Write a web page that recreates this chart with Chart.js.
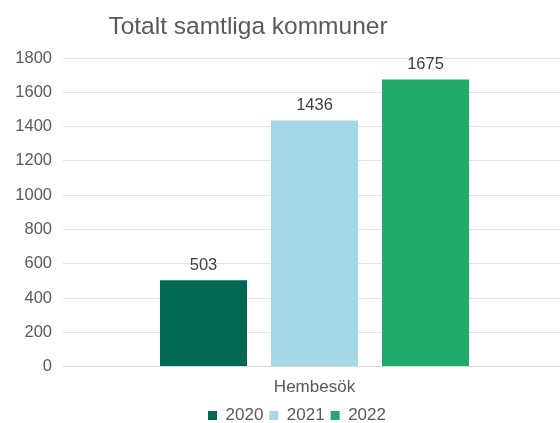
<!DOCTYPE html>
<html>
<head>
<meta charset="utf-8">
<script src="https://cdn.jsdelivr.net/npm/chart.js@4"></script>
<style>
  html, body { margin: 0; padding: 0; background: #fff; overflow: hidden; }
  #wrap { position: relative; width: 570px; height: 434px; }
  #title { position: absolute; left: 0; top: 12px; width: 496px; text-align: center;
           font: 24.5px "Liberation Sans", Arial, sans-serif; color: #595959; }
</style>
</head>
<body>
<div id="wrap">
  <div id="title">Totalt samtliga kommuner</div>
  <canvas id="chart" width="570" height="434"></canvas>
</div>
<script>
// chart data
const categories = ["Hembesök"];
const years = ["2020", "2021", "2022"];
const values2020 = [503];
const values2021 = [1436];
const values2022 = [1675];
const yTicks = [0, 200, 400, 600, 800, 1000, 1200, 1400, 1600, 1800];

const colors = ["#006853", "#a5d8e6", "#21ab6b"];
const fontFamily = "'Liberation Sans', Arial, sans-serif";

// draw the value above each bar
const valueLabels = {
    id: "valueLabels",
    afterDatasetsDraw(chart) {
        const ctx = chart.ctx;
        ctx.save();
        ctx.font = "16.5px " + fontFamily;
        ctx.fillStyle = "#404040";
        ctx.textAlign = "center";
        ctx.textBaseline = "middle";
        chart.data.datasets.forEach((ds, i) => {
            chart.getDatasetMeta(i).data.forEach((bar, j) => {
                ctx.fillText(ds.data[j], bar.x, bar.y - 15);
            });
        });
        ctx.restore();
    }
};

// legend in the original sits a bit right of the canvas centre
const shiftLegend = {
    id: "shiftLegend",
    afterLayout(chart) {
        chart.legend.left += 14;
        chart.legend.right += 14;
    }
};

const ctx = document.getElementById("chart").getContext("2d");
new Chart(ctx, {
    type: "bar",
    data: {
        labels: categories,
        datasets: [
            { label: years[0], data: values2020, backgroundColor: colors[0] },
            { label: years[1], data: values2021, backgroundColor: colors[1] },
            { label: years[2], data: values2022, backgroundColor: colors[2] }
        ]
    },
    options: {
        responsive: false,
        animation: false,
        layout: { padding: { top: 58, left: 0, right: 4, bottom: 0 } },
        datasets: { bar: { categoryPercentage: 0.662, barPercentage: 0.784 } },
        scales: {
            x: {
                grid: { display: false },
                border: { color: "#d9d9d9" },
                ticks: { color: "#595959", font: { size: 17, family: fontFamily }, padding: 3 }
            },
            y: {
                min: 0,
                max: 1800,
                afterBuildTicks: axis => { axis.ticks = yTicks.map(v => ({ value: v })); },
                afterFit: axis => { axis.width = 63; },
                grid: { color: "#e3e3e3", drawTicks: false },
                border: { display: false },
                ticks: {
                    color: "#595959",
                    font: { size: 16.5, family: fontFamily },
                    padding: 11,
                    callback: v => String(v)
                }
            }
        },
        plugins: {
            legend: {
                position: "bottom",
                labels: {
                    usePointStyle: true,
                    pointStyle: "rect",
                    boxWidth: 9,
                    boxHeight: 9,
                    padding: 6,
                    color: "#595959",
                    font: { size: 17, family: fontFamily }
                }
            },
            tooltip: { enabled: false }
        }
    },
    plugins: [valueLabels, shiftLegend]
});
</script>
</body>
</html>
